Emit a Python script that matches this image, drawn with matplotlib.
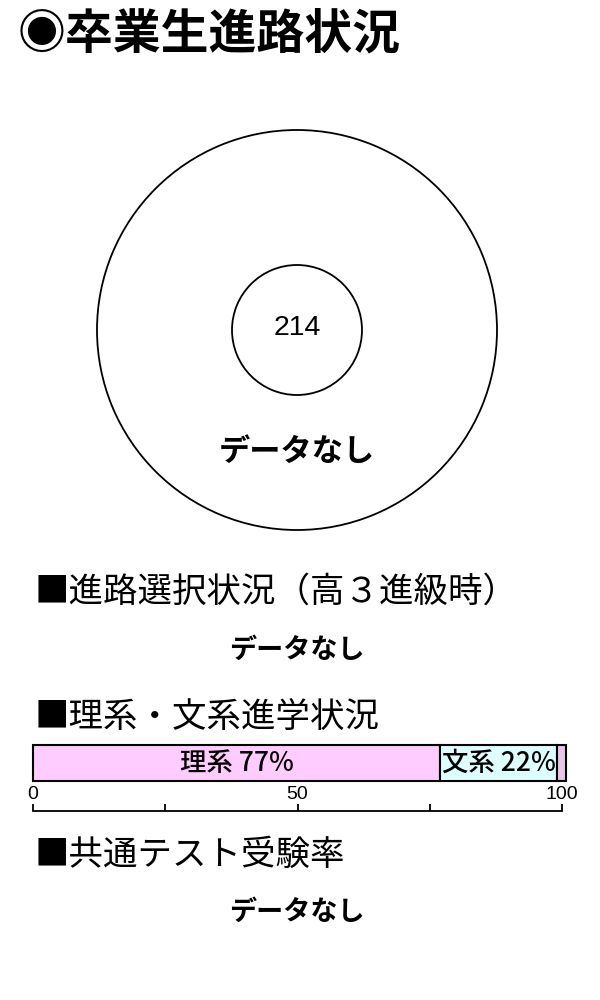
import matplotlib
matplotlib.use("Agg")
import matplotlib.pyplot as plt

plt.rcParams['font.family'] = ['Noto Sans CJK JP', 'DejaVu Sans']

# data
title = '◉卒業生進路状況'
graduates = 214
no_data = 'データなし'
sections = ['■進路選択状況（高３進級時）', '■理系・文系進学状況', '■共通テスト受験率']
track_names = ['理系', '文系', 'その他']
track_pct = [77, 22, 1.7]
track_colors = ['#ffccff', '#ddffff', '#e6c8e6']
scale_ticks = [0, 25, 50, 75, 100]
scale_labels = ['0', '', '50', '', '100']

W, H = 600, 1000
fig = plt.figure(figsize=(6, 10), dpi=100)


def px_axes(x0, y0, x1, y1):
    # axes from pixel box (top-left origin)
    return fig.add_axes([x0 / W, 1 - y1 / H, (x1 - x0) / W, (y1 - y0) / H])


def ty(y):
    return 1 - y / H


fig.text(18 / W, ty(34), title, fontsize=34.5, fontweight='bold', va='center', ha='left')

# donut with no breakdown data
cx, cy, R = 297, 330, 202
ax = px_axes(cx - R, cy - R, cx + R, cy + R)
ax.pie([1], radius=200 / R, colors=['white'], startangle=90,
       wedgeprops=dict(edgecolor='black', linewidth=1.3))
ax.pie([1], radius=65 / R, colors=['white'], startangle=90,
       wedgeprops=dict(edgecolor='black', linewidth=1.3))
ax.set_xlim(-1, 1)
ax.set_ylim(-1, 1)
ax.set_aspect('equal')
ax.axis('off')
ax.text(0, 0.01, str(graduates), fontsize=20.5, ha='center', va='center',
        family=['Liberation Sans', 'DejaVu Sans'])
ax.text(0, -122 / R, no_data, fontsize=22.5, fontweight='bold', ha='center', va='center')

# section 1
fig.text(35 / W, ty(592), sections[0], fontsize=24.8, va='center', ha='left')
fig.text(297 / W, ty(650), no_data, fontsize=19.5, fontweight='bold', va='center', ha='center')

# section 2: stacked bar
fig.text(35 / W, ty(718), sections[1], fontsize=24.8, va='center', ha='left')
bx = px_axes(33, 745, 562, 781)
left = 0
for name, v, c in zip(track_names, track_pct, track_colors):
    bx.barh([0], [v], left=left, height=1, color=c, edgecolor='black',
            linewidth=1.5, clip_on=False)
    if v >= 10:
        bx.text(left + v / 2, -0.02, f'{name} {v}%', fontsize=19, fontweight='medium',
                ha='center', va='center')
    left += v
bx.set_xlim(0, 100)
bx.set_ylim(-0.5, 0.5)
bx.axis('off')

sx = px_axes(33, 804, 562, 811)
sx.set_xlim(0, 100)
for s in ['left', 'right', 'top']:
    sx.spines[s].set_visible(False)
sx.spines['bottom'].set_linewidth(1.3)
sx.set_yticks([])
sx.set_xticks(scale_ticks)
sx.set_xticklabels(scale_labels, family=['Liberation Sans', 'DejaVu Sans'])
sx.tick_params(axis='x', direction='in', length=5, width=1.3, labelsize=14,
               bottom=True, labelbottom=False, top=False, labeltop=True, pad=1)
sx.patch.set_visible(False)

# section 3
fig.text(35 / W, ty(855), sections[2], fontsize=24.8, va='center', ha='left')
fig.text(297 / W, ty(912), no_data, fontsize=19.5, fontweight='bold', va='center', ha='center')

fig.savefig('out.png', dpi=100)
